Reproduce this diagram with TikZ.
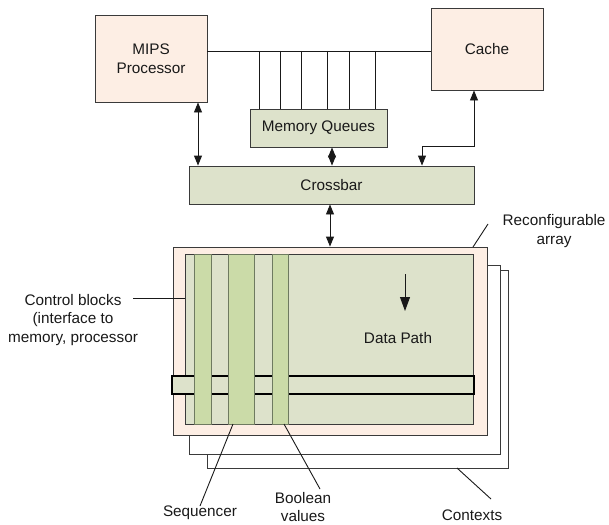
\documentclass[tikz,border=0pt]{standalone}
\usepackage{fontspec}
\setmainfont{Liberation Sans}
\usetikzlibrary{arrows.meta}
\definecolor{peach}{HTML}{FDEEE4}
\definecolor{sage}{HTML}{DDE2CB}
\definecolor{leaf}{HTML}{CBDBA8}
\definecolor{edge}{HTML}{3A3A3A}
\definecolor{stripedge}{HTML}{6E7A60}
\begin{document}
\begin{tikzpicture}[x=1pt,y=-1pt,
  font=\fontsize{15.3}{18.5}\selectfont,
  every node/.style={text=black!90},
  box/.style={draw=edge, line width=0.9pt, align=center, inner sep=0pt},
  strip/.style={draw=stripedge, line width=0.9pt, fill=leaf, minimum width=#1, minimum height=170pt, inner sep=0pt},
  wire/.style={draw=black!90, line width=0.9pt},
  tri/.tip={Triangle[length=10pt,width=8pt]},
  bigtri/.tip={Triangle[length=14pt,width=10pt]},
  lbl/.style={align=center, inner sep=0pt}]
\useasboundingbox (0,0) rectangle (609,524);

% processor, cache, queues, crossbar
\node[box, fill=peach, minimum width=112pt, minimum height=87pt] (mips) at (151,58.5) {MIPS\\Processor};
\node[box, fill=peach, minimum width=112pt, minimum height=82pt] (cache) at (487,49) {Cache};
\node[box, fill=sage, minimum width=137pt, minimum height=38pt] (memq) at (318.5,128) {Memory Queues};
\node[box, fill=sage, minimum width=285pt, minimum height=38pt] (xbar) at (331.5,185) {Crossbar};

% memory bus with taps into the queues
\coordinate (busL) at (207,51);
\draw[wire] (busL) -- (cache.west |- busL);
\foreach \x [count=\i] in {259,280,301,327,349,375} {
  \coordinate (tap\i) at (\x,51);
  \draw[wire] (tap\i) -- (memq.north -| tap\i);
}

% links to the crossbar
\coordinate (pcx) at (198,0);
\draw[wire, tri-tri] (mips.south -| pcx) -- (xbar.north -| pcx);
\coordinate (mqx) at (332,0);
\draw[wire, tri-tri] (memq.south -| mqx) -- (xbar.north -| mqx);
\coordinate (cbend) at (474,146);
\coordinate (xbend) at (422,146);
\draw[wire, tri-tri] (cache.south -| cbend) -- (cbend) -- (xbend) -- (xbar.north -| xbend);

% reconfigurable array: stacked contexts
\node[box, fill=white, minimum width=301pt, minimum height=198pt] (ctx3) at (357.5,369) {};
\node[box, fill=white, minimum width=311pt, minimum height=189pt] (ctx2) at (344.5,359.5) {};
\node[box, fill=peach, minimum width=314pt, minimum height=188pt] (front) at (330,341) {};
\node[box, fill=sage, minimum width=288pt, minimum height=170pt] (inner) at (329,339) {};

\draw[wire, tri-tri] (xbar.south -| front.north) -- (front.north);

% horizontal data bar, crossed by the control strips
\node[draw=black, line width=2.3pt, fill=sage, minimum width=302pt, minimum height=18pt, inner sep=0pt] (hbar) at (323,385) {};
\node[strip=17pt] (s1) at (202.5,339) {};
\node[strip=26pt] (s2) at (241,339) {};
\node[strip=16pt] (s3) at (280,339) {};

% data path
\coordinate (dpa) at (405,274);
\coordinate (dpb) at (405,311);
\draw[wire, -bigtri] (dpa) -- (dpb);
\node[lbl] (dp) at (398,338) {Data Path};

% labels and leaders
\node[lbl] (recon) at (554,231) {Reconfigurable\\array};
\coordinate (reconA) at (488,224);
\coordinate (reconB) at (473,247);
\draw[wire] (reconA) -- (reconB);

\node[lbl] (ctl) at (73,320) {Control blocks\\(interface to\\memory, processor};
\coordinate (ctlA) at (133,298);
\draw[wire] (ctlA) -- (inner.west |- ctlA);

\node[lbl] (seq) at (200,513) {Sequencer};
\coordinate (seqA) at (200,506);
\coordinate (seqB) at (233,424);
\draw[wire] (seqA) -- (seqB);

\node[lbl] (bool) at (303,507) {Boolean\\values};
\coordinate (boolA) at (320,489);
\coordinate (boolB) at (284,424);
\draw[wire] (boolA) -- (boolB);

\node[lbl] (ctx) at (472,515) {Contexts};
\coordinate (ctxA) at (491,499);
\coordinate (ctxB) at (457,468);
\draw[wire] (ctxA) -- (ctxB);
\end{tikzpicture}
\end{document}
